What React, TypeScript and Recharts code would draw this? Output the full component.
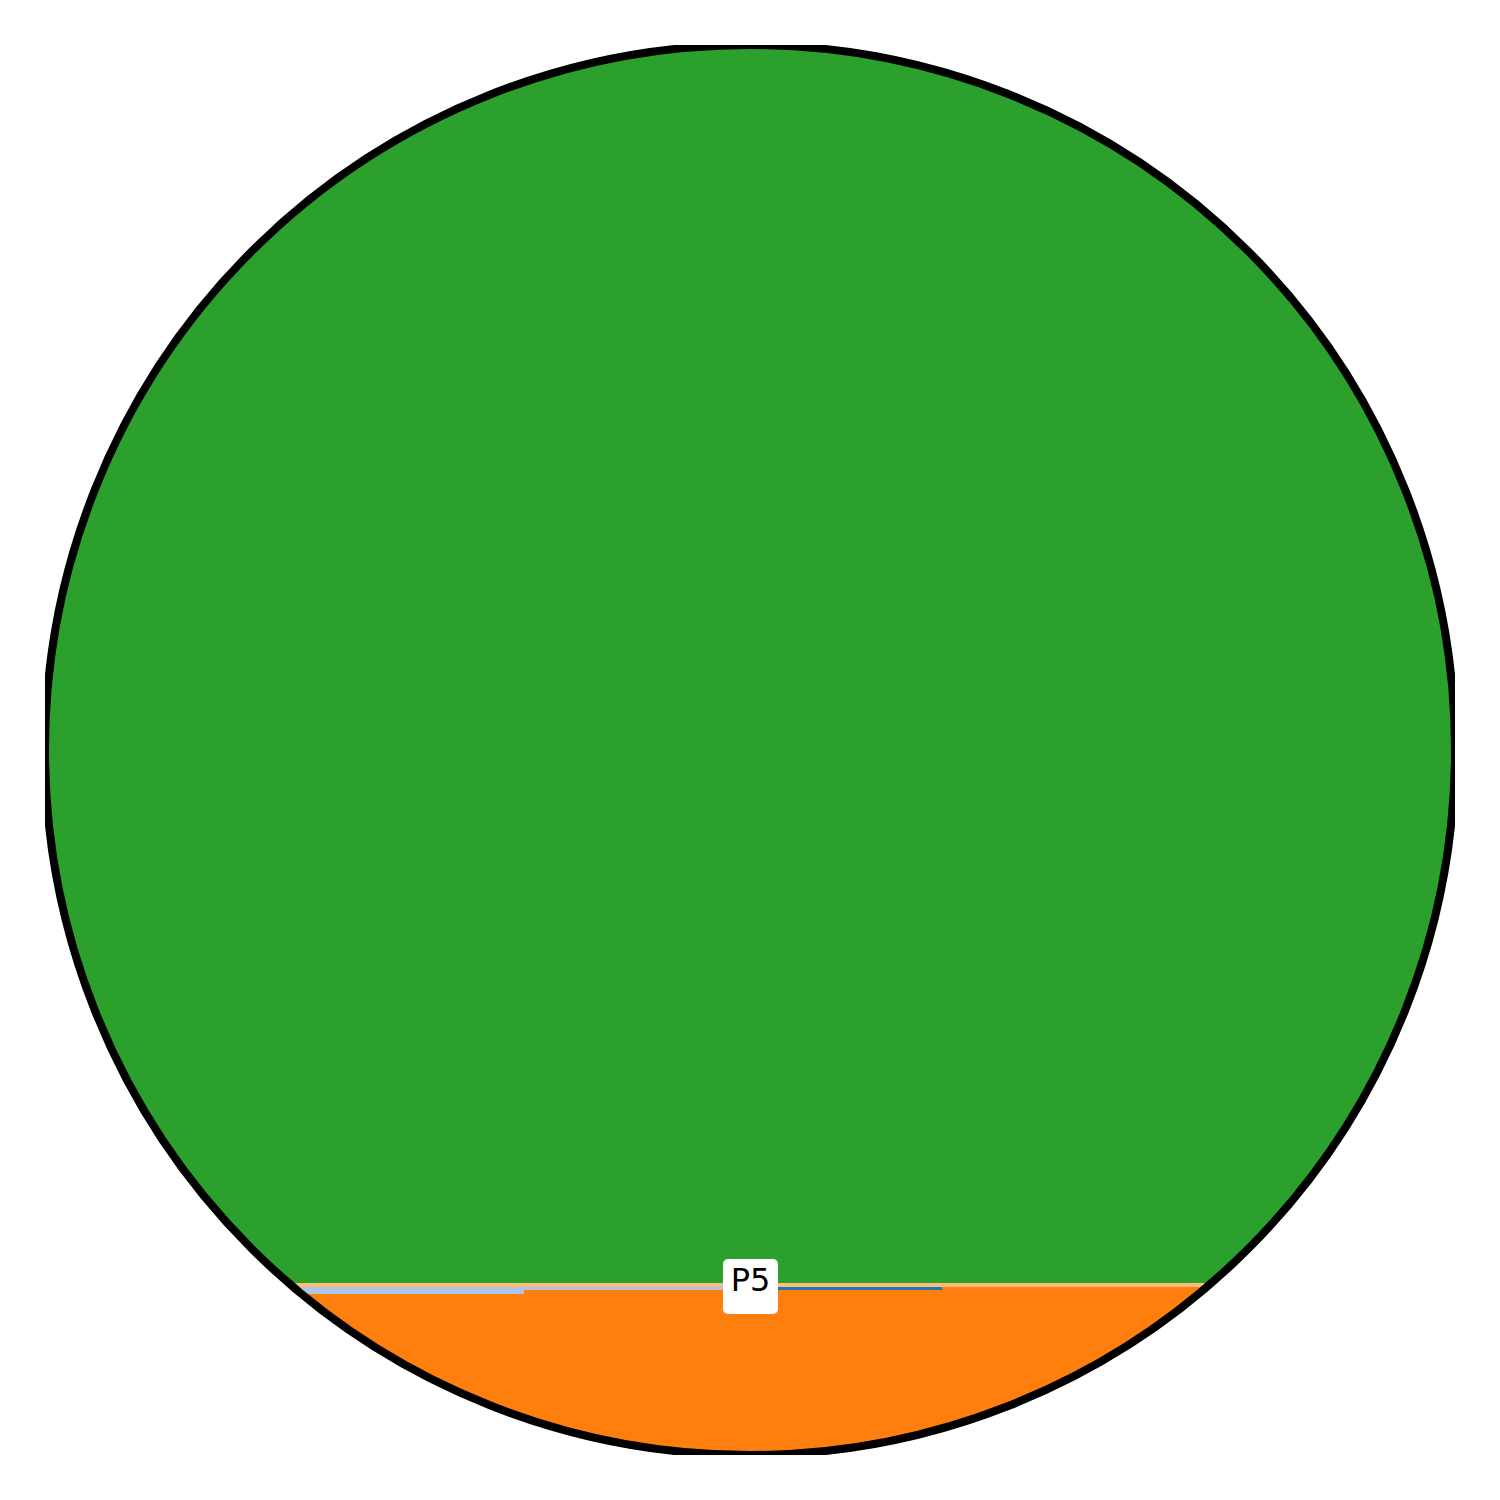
import React from 'react';
import { Treemap } from 'recharts';

// values = share of the disc's bounding square, in %
const mainName = 'P4';
const mainValue = 87.8;
const stripName = 'P5';
const stripValue = 0.284;
const bottomNames = ['P2', 'P3', 'P2', 'P3', 'P1', 'P3', 'P3'];
const bottomValues = [0.1685, 3.876, 0.0341, 1.874, 0.029, 1.592, 4.34];

const colors: Record<string, string> = {
  P1: '#1f77b4',
  P2: '#aec7e8',
  P3: '#ff7f0e',
  P4: '#2ca02c',
  P5: '#ffbb78',
};
const labelled = 'P5';

const data = [
  { name: mainName, value: mainValue },
  {
    name: 'rest',
    children: [
      { name: stripName, value: stripValue },
      {
        name: 'bottom',
        children: bottomNames.map((n, i) => ({ name: n, value: bottomValues[i] })),
      },
    ],
  },
];

export default function App() {
  // centre of the labelled cell, picked up while the cells are drawn
  let spot: { x: number; y: number } | null = null;
  const lastLeaf = bottomNames.length - 1;

  const renderCell = (props: any) => {
    const { x, y, width, height, name, depth, index, children } = props;
    const leaf = !children || children.length === 0;
    if (!leaf) return <g />;
    if (name === labelled) spot = { x: x + width / 2, y: y + height / 2 };
    const cell = <rect x={x} y={y} width={width} height={height} fill={colors[name]} />;
    // draw the label with the last cell so nothing covers it
    if (depth === 3 && index === lastLeaf && spot) {
      return (
        <g>
          {cell}
          <rect x={spot.x - 27.5} y={spot.y - 26} width={55} height={55} rx={5} ry={5} fill="#ffffff" />
          <text
            x={spot.x}
            y={spot.y + 6}
            textAnchor="middle"
            fontSize={32}
            fontFamily="DejaVu Sans"
            fill="#000000"
          >
            {labelled}
          </text>
        </g>
      );
    }
    return cell;
  };

  return (
    <div style={{ position: 'absolute', left: 0, top: 0, width: 1500, height: 1500, background: '#fff' }}>
      <div style={{ position: 'absolute', left: 45, top: 45, width: 1410, height: 1410, overflow: 'hidden' }}>
        <div style={{ position: 'absolute', left: 0, top: 0, clipPath: 'circle(702px at 705px 705px)' }}>
          <Treemap
            width={1411}
            height={1410}
            data={data}
            dataKey="value"
            nameKey="name"
            aspectRatio={10}
            isAnimationActive={false}
            content={renderCell}
          />
        </div>
        <svg width={1410} height={1410} style={{ position: 'absolute', left: 0, top: 0 }}>
          <circle cx={705} cy={705} r={705} fill="none" stroke="#000" strokeWidth={8} />
        </svg>
      </div>
    </div>
  );
}
